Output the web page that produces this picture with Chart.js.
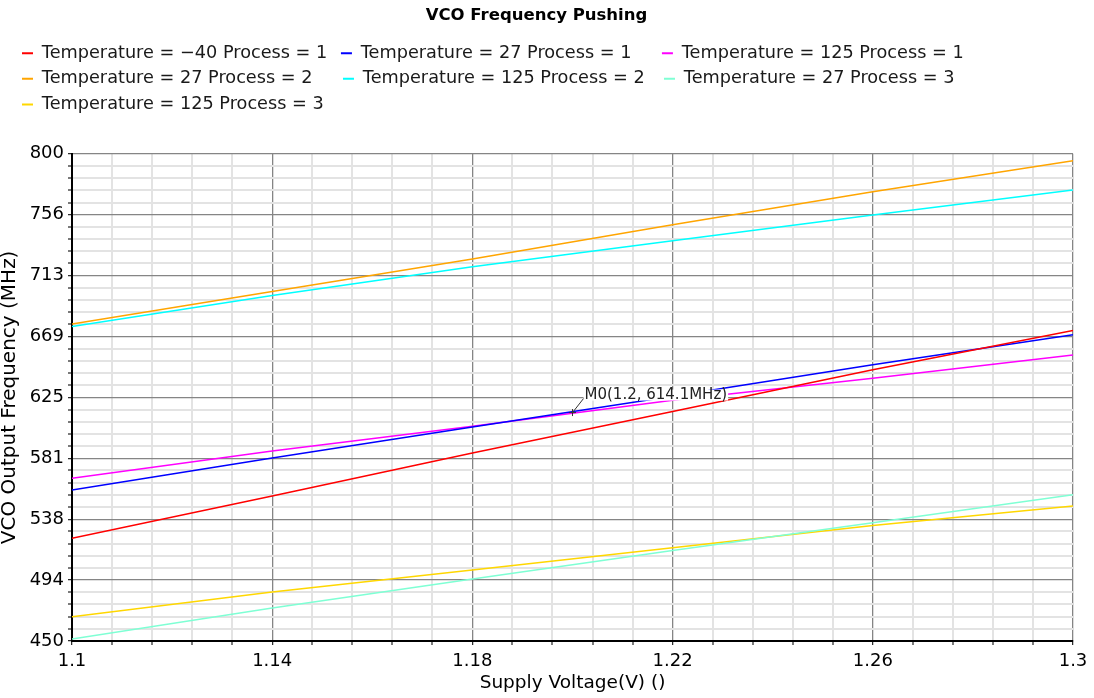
<!DOCTYPE html>
<html>
<head>
<meta charset="utf-8">
<title>VCO Frequency Pushing</title>
<script src="https://cdn.jsdelivr.net/npm/chart.js@4.4.0/dist/chart.umd.min.js"></script>
<style>
  html, body { margin: 0; padding: 0; background: #fff; }
  canvas { display: block; }
</style>
</head>
<body>
<canvas id="pushingChart" width="1094" height="698"></canvas>
<script>
// supply voltage sweep (V)
const xValues = [1.1, 1.14, 1.18, 1.22, 1.26, 1.3];

const seriesLabels = [
    'Temperature = \u221240 Process = 1',
    'Temperature = 27 Process = 1',
    'Temperature = 125 Process = 1',
    'Temperature = 27 Process = 2',
    'Temperature = 125 Process = 2',
    'Temperature = 27 Process = 3',
    'Temperature = 125 Process = 3'
];

// VCO output frequency (MHz)
const tempM40Proc1 = [523.8, 554.2, 585.0, 614.8, 644.8, 673.0];
const temp27Proc1  = [558.5, 581.5, 603.8, 625.8, 648.5, 670.0];
const temp125Proc1 = [567.0, 586.5, 604.3, 623.0, 638.8, 655.5];
const temp27Proc2  = [677.8, 701.0, 724.5, 749.0, 772.7, 795.0];
const temp125Proc2 = [676.0, 698.2, 718.8, 737.5, 756.0, 774.0];
const temp27Proc3  = [451.4, 473.7, 494.5, 515.0, 535.0, 555.0];
const temp125Proc3 = [467.5, 485.2, 501.0, 517.0, 533.0, 547.0];

const seriesValues = [tempM40Proc1, temp27Proc1, temp125Proc1, temp27Proc2, temp125Proc2, temp27Proc3, temp125Proc3];
const seriesColors = ['#ff0000', '#0000ff', '#ff00ff', '#ffa500', '#00ffff', '#7fffd4', '#ffd700'];

const xMajorTicks = [1.1, 1.14, 1.18, 1.22, 1.26, 1.3];
const xTickLabels = ['1.1', '1.14', '1.18', '1.22', '1.26', '1.3'];
const yMajorTicks = [450, 493.75, 537.5, 581.25, 625, 668.75, 712.5, 756.25, 800];
const yTickLabels = ['450', '494', '538', '581', '625', '669', '713', '756', '800'];
const minorPerMajor = 5;

// marker M0
const markerX = 1.2;
const markerY = 614.1;
const markerText = 'M0(1.2, 614.1MHz)';

const FONT = '"DejaVu Sans", "Liberation Sans", sans-serif';
const LEGEND_SIZE = 17.7;
const LEGEND_PAD = 8;
const LEGEND_COL = 320;

function withMinors(majors) {
    const out = [];
    for (let i = 0; i < majors.length - 1; i++) {
        const step = (majors[i + 1] - majors[i]) / minorPerMajor;
        for (let k = 0; k < minorPerMajor; k++) out.push(majors[i] + k * step);
    }
    out.push(majors[majors.length - 1]);
    return out;
}

function gridOpts() {
    return {
        color: c => c.index % minorPerMajor === 0 ? '#858585' : '#e3e3e3',
        lineWidth: c => c.index % minorPerMajor === 0 ? 1.3 : 2,
        drawTicks: true,
        tickLength: 4,
        tickColor: '#222',
        tickWidth: 1.2
    };
}

const layoutTweaks = {
    id: 'layoutTweaks',
    beforeInit(chart) {
        const legend = chart.legend;
        const origFit = legend.fit;
        legend.fit = function () {
            origFit.call(this);
            this.height = 117.5;
        };
    },
    afterLayout(chart) {
        chart.legend.left = 14;
    }
};

const markerLabel = {
    id: 'markerLabel',
    afterDatasetsDraw(chart) {
        const { ctx, scales: { x, y } } = chart;
        const px = x.getPixelForValue(markerX);
        const py = y.getPixelForValue(markerY);
        const tx = px + 11, ty = py - 17;
        ctx.save();
        ctx.font = '15px ' + FONT;
        const w = ctx.measureText(markerText).width;
        ctx.fillStyle = '#fff';
        ctx.fillRect(tx, ty - 6, w + 2, 11);
        ctx.strokeStyle = '#333';
        ctx.lineWidth = 1;
        ctx.beginPath();
        ctx.moveTo(px, py);
        ctx.lineTo(tx, ty + 3);
        ctx.moveTo(px - 3.5, py); ctx.lineTo(px + 3.5, py);
        ctx.moveTo(px, py - 3.5); ctx.lineTo(px, py + 3.5);
        ctx.stroke();
        ctx.fillStyle = '#222';
        ctx.textBaseline = 'middle';
        ctx.fillText(markerText, tx + 1, ty);
        ctx.restore();
    }
};

new Chart(document.getElementById('pushingChart'), {
    type: 'line',
    data: {
        datasets: seriesValues.map((vals, i) => ({
            label: seriesLabels[i],
            data: xValues.map((x, j) => ({ x: x, y: vals[j] })),
            borderColor: seriesColors[i],
            backgroundColor: seriesColors[i],
            borderWidth: 1.5,
            pointRadius: 0,
            tension: 0
        }))
    },
    options: {
        responsive: false,
        animation: false,
        layout: { padding: { left: 0, right: 21, top: 0, bottom: 0 } },
        plugins: {
            title: {
                display: true,
                text: 'VCO Frequency Pushing',
                color: '#000',
                font: { family: FONT, size: 16.5, weight: 'bold' },
                padding: { top: 6, bottom: 10.5 }
            },
            legend: {
                position: 'top',
                align: 'start',
                labels: {
                    color: '#1a1a1a',
                    font: { family: FONT, size: LEGEND_SIZE },
                    boxWidth: 11,
                    boxHeight: 2,
                    padding: LEGEND_PAD,
                    // pad labels with spaces so the three columns line up
                    generateLabels(chart) {
                        const items = Chart.defaults.plugins.legend.labels.generateLabels(chart);
                        const ctx = chart.ctx;
                        ctx.save();
                        ctx.font = LEGEND_SIZE + 'px ' + FONT;
                        const target = LEGEND_COL - 11 - LEGEND_SIZE / 2 - LEGEND_PAD;
                        items.forEach(it => {
                            it.lineWidth = 0;
                            let t = it.text;
                            while (ctx.measureText(t + ' ').width <= target + 2) t += ' ';
                            it.text = t;
                        });
                        ctx.restore();
                        return items;
                    }
                }
            },
            tooltip: { enabled: false }
        },
        scales: {
            x: {
                type: 'linear',
                min: xMajorTicks[0],
                max: xMajorTicks[xMajorTicks.length - 1],
                afterBuildTicks: axis => { axis.ticks = withMinors(xMajorTicks).map(v => ({ value: v })); },
                afterFit: axis => { axis.height = 57; },
                ticks: {
                    autoSkip: false,
                    maxRotation: 0,
                    padding: 6,
                    color: '#000',
                    font: { family: FONT, size: 18 },
                    callback: (v, i) => i % minorPerMajor === 0 ? xTickLabels[i / minorPerMajor] : ''
                },
                grid: gridOpts(),
                border: { color: '#000', width: 2 },
                title: {
                    display: true,
                    text: 'Supply Voltage(V) ()',
                    color: '#000',
                    font: { family: FONT, size: 18.5 },
                    padding: { top: 0, bottom: 4 }
                }
            },
            y: {
                type: 'linear',
                min: yMajorTicks[0],
                max: yMajorTicks[yMajorTicks.length - 1],
                afterBuildTicks: axis => { axis.ticks = withMinors(yMajorTicks).map(v => ({ value: v })); },
                afterFit: axis => { axis.width = 72; },
                ticks: {
                    autoSkip: false,
                    padding: 4,
                    color: '#000',
                    font: { family: FONT, size: 18 },
                    callback: (v, i) => i % minorPerMajor === 0 ? yTickLabels[i / minorPerMajor] : ''
                },
                grid: gridOpts(),
                border: { color: '#000', width: 2 },
                title: {
                    display: true,
                    text: 'VCO Output Frequency (MHz)',
                    color: '#000',
                    font: { family: FONT, size: 20, lineHeight: 1 },
                    padding: { top: 0, bottom: 0 }
                }
            }
        }
    },
    plugins: [layoutTweaks, markerLabel]
});
</script>
</body>
</html>
